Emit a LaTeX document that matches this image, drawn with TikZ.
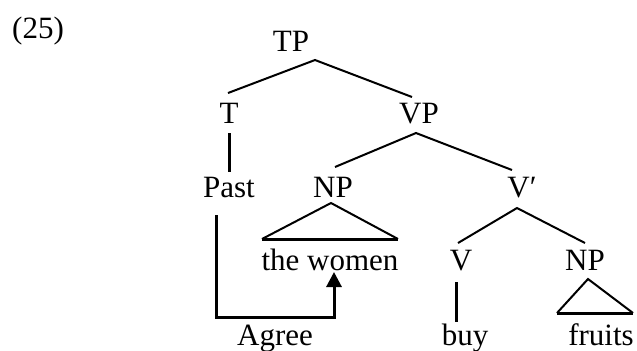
\documentclass[tikz,border=0pt]{standalone}
\usepackage{fontspec}
\setmainfont{Liberation Serif}
\usetikzlibrary{arrows.meta}
\begin{document}
\begin{tikzpicture}[x=0.5pt,y=-0.5pt,
  lab/.style={anchor=base,inner sep=0pt,font=\fontsize{15.5}{18}\selectfont},
  branch/.style={line width=1pt},
  bar/.style={line width=1.5pt},
  tri/.style={line width=1pt},
  triBase/.style={line width=1.5pt}]
\useasboundingbox (0,0) rectangle (637,350);
% labels
\node[lab] (n25) at (38,38) {(25)};
\node[lab] (TP) at (291,51) {TP};
\node[lab] (T) at (229,123) {T};
\node[lab] (VP) at (419,123) {VP};
\node[lab] (Past) at (229,197) {Past};
\node[lab] (NP) at (333,197) {NP};
\node[lab] (Vbar) at (522,197) {V′};
\node[lab] (women) at (330,270) {the women};
\node[lab] (V) at (461,270) {V};
\node[lab] (NPb) at (585,270) {NP};
\node[lab] (agree) at (275,345) {Agree};
\node[lab] (buy) at (465,345) {buy};
\node[lab] (fruits) at (601,345) {fruits};
% connector end points
\coordinate (TPa) at (315,60);
\coordinate (Tt) at (228,93);
\coordinate (VPt) at (412,97);
\coordinate (Tb) at (229,133);
\coordinate (Pastt) at (229,172);
\coordinate (VPa) at (416,133);
\coordinate (NPt) at (335,167);
\coordinate (Vbart) at (512,170);
\coordinate (NPa) at (331,203);
\coordinate (NPl) at (262,239);
\coordinate (NPr) at (398,239);
\coordinate (Vbara) at (517,208);
\coordinate (Vt) at (458,243);
\coordinate (NPbt) at (585,243);
\coordinate (Vb) at (456,282);
\coordinate (buyt) at (456,322);
\coordinate (NPba) at (588,279);
\coordinate (NPbl) at (557,313);
\coordinate (NPbr) at (633,313);
\coordinate (Pastb) at (216,215);
\coordinate (agL) at (216,317);
\coordinate (agR) at (334,317);
\coordinate (womenb) at (334,272);
% branches
\draw[branch] (Tt) -- (TPa) -- (VPt);
\draw[bar] (Tb) -- (Pastt);
\draw[branch] (NPt) -- (VPa) -- (Vbart);
\draw[tri] (NPl) -- (NPa) -- (NPr);
\draw[triBase] (NPl) -- (NPr);
\draw[branch] (Vt) -- (Vbara) -- (NPbt);
\draw[bar] (Vb) -- (buyt);
\draw[tri] (NPbl) -- (NPba) -- (NPbr);
\draw[triBase] (NPbl) -- (NPbr);
% agree arrow
\draw[bar,line join=miter,-{Triangle[width=7.5pt,length=7.5pt]}] (Pastb) -- (agL) -- (agR) -- (womenb);
\end{tikzpicture}
\end{document}
